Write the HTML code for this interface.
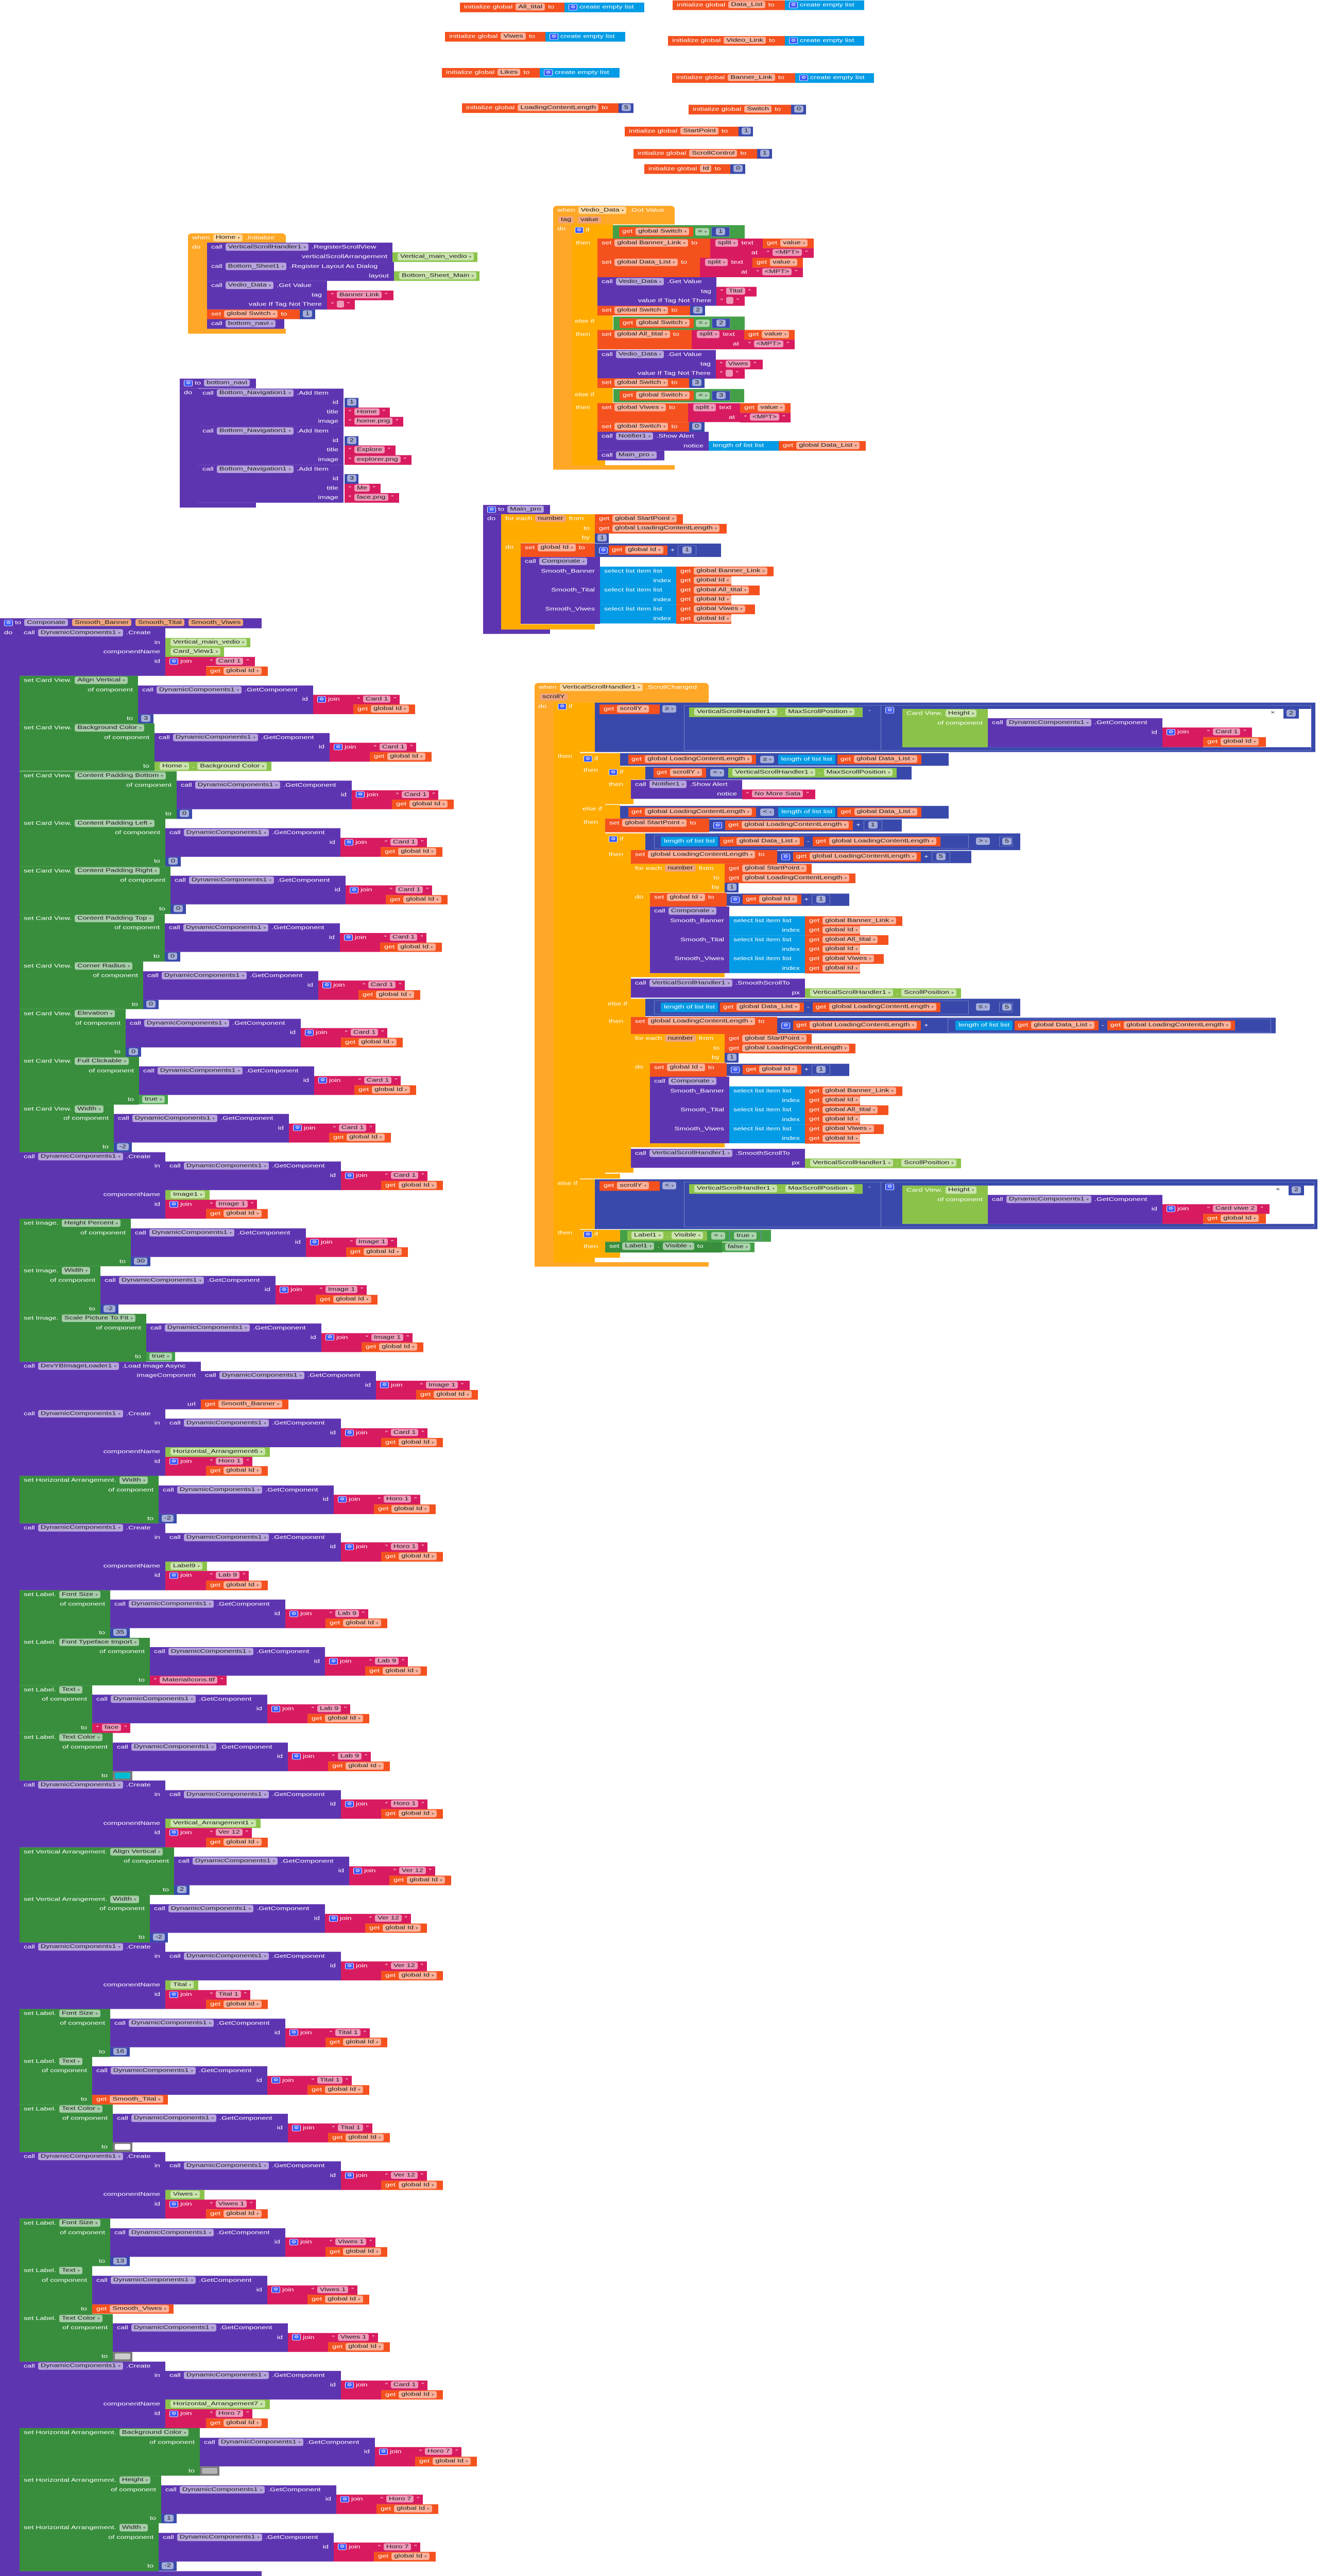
<!DOCTYPE html>
<html><head><meta charset="utf-8">
<style>
*{box-sizing:border-box;margin:0;padding:0}
html,body{width:100%;height:100%;background:#fff;overflow:hidden}
body{font-family:"Liberation Sans",Arial,sans-serif}
#s{display:block;width:100vw;height:100vh;background:#fff}
#w{position:relative;width:2563px;height:6933px;overflow:hidden;background:#fff;font-family:"Liberation Sans",Arial,sans-serif}
.b{position:absolute;height:25.6px;color:#fff;font-size:14.5px;line-height:25.6px;white-space:nowrap;padding:0 7px 0 8px}
.t{position:absolute;color:#fff;font-size:14.5px;line-height:25.6px;white-space:nowrap}
.st{position:absolute;left:38px;width:0;height:0}
.P{background:#5E35B1}.G{background:#388E3C}.O{background:#F4511E}.K{background:#D81B60}.N{background:#3949AB}.L{background:#039BE5}.C{background:#8BC34A}.E{background:#FFA726}.Y{background:#FFAB00}.LG{background:#43A047}.X{background:#7a7a7a}
.f{display:inline-block;background:rgba(255,255,255,.55);color:#1e1e1e;border-radius:4px;padding:0 5px;line-height:19px;margin:0 2px;vertical-align:1px}
.f i{font-style:normal;font-size:9px;opacity:.6;margin-left:4px}
.pa{background:#EFA57C}
.r{position:absolute;right:10px}
.r1{top:25.6px}.r2{top:51.3px}.r3{top:76.9px}.r4{top:102.5px}.r5{top:128.2px}.r6{top:153.8px}
.gr{display:inline-block;width:17px;height:17px;line-height:15px;text-align:center;background:#3D5AFE;border:1px solid #fff;border-radius:3px;font-size:11px;font-weight:normal;vertical-align:middle;color:#fff}
.ch{display:inline-block;height:25.6px;line-height:25.6px;padding:0 6px;vertical-align:middle;margin:0 2px}
.bd{border:1px solid #7986CB}
.sw{display:inline-block;width:30px;height:16px;vertical-align:middle;border-radius:3px}
.sg{left:0;top:0;width:var(--w);height:128.2px}
.gc{left:var(--w);top:25.6px;width:340px;height:76.9px}
.jn{left:calc(var(--w) + 340px);top:51.3px;width:78px;height:51.3px}
.tx{left:calc(var(--w) + 418px);top:51.3px}
.gt{left:calc(var(--w) + 418px);top:76.9px;width:120px}
.tv{left:var(--w);top:102.5px}
.c7{left:0;top:0;width:283px;height:179.4px}
.cgc{left:283px;top:25.6px;width:341px;height:76.9px}
.cjn{left:624px;top:51.3px;width:78px;height:51.3px}
.ctx{left:702px;top:51.3px}
.cgt{left:702px;top:76.9px;width:120px}
.cnm{left:283px;top:102.5px}
.cj2{left:283px;top:128.2px;width:79px;height:51.3px}
.ct2{left:362px;top:128.2px}
.cg2{left:362px;top:153.8px;width:120px}
</style></head><body>
<svg id="s" viewBox="0 0 2563 6933" preserveAspectRatio="none"><foreignObject x="0" y="0" width="2563" height="6933"><div id="w">

<!-- ===== Global variables ===== -->
<div class="b O" style="left:893px;top:7px;width:203px">initialize global <span class="f">All_tital</span> to</div><div class="b L" style="left:1096px;top:7px;width:155px"><b class="gr">⚙</b> create empty list</div>
<div class="b O" style="left:1306px;top:1px;width:218px">initialize global <span class="f">Data_List</span> to</div><div class="b L" style="left:1524px;top:1px;width:154px"><b class="gr">⚙</b> create empty list</div>
<div class="b O" style="left:864px;top:86px;width:195px">initialize global <span class="f">Viwes</span> to</div><div class="b L" style="left:1059px;top:86px;width:155px"><b class="gr">⚙</b> create empty list</div>
<div class="b O" style="left:1297px;top:97px;width:227px">initialize global <span class="f">Video_Link</span> to</div><div class="b L" style="left:1524px;top:97px;width:154px"><b class="gr">⚙</b> create empty list</div>
<div class="b O" style="left:858px;top:183px;width:190px">initialize global <span class="f">Likes</span> to</div><div class="b L" style="left:1048px;top:183px;width:155px"><b class="gr">⚙</b> create empty list</div>
<div class="b O" style="left:1305px;top:197px;width:239px">initialize global <span class="f">Banner_Link</span> to</div><div class="b L" style="left:1544px;top:197px;width:153px"><b class="gr">⚙</b> create empty list</div>
<div class="b O" style="left:897px;top:278px;width:304px">initialize global <span class="f">LoadingContentLength</span> to</div><div class="b N" style="left:1201px;top:278px;width:29px;padding:0 4px"><span class="f">5</span></div>
<div class="b O" style="left:1337px;top:282px;width:199px">initialize global <span class="f">Switch</span> to</div><div class="b N" style="left:1536px;top:282px;width:29px;padding:0 4px"><span class="f">0</span></div>
<div class="b O" style="left:1213px;top:341px;width:221px">initialize global <span class="f">StartPoint</span> to</div><div class="b N" style="left:1434px;top:341px;width:28px;padding:0 4px"><span class="f">1</span></div>
<div class="b O" style="left:1230px;top:401px;width:240px">initialize global <span class="f">ScrollControl</span> to</div><div class="b N" style="left:1470px;top:401px;width:29px;padding:0 4px"><span class="f">1</span></div>
<div class="b O" style="left:1251px;top:442px;width:167px">initialize global <span class="f">Id</span> to</div><div class="b N" style="left:1418px;top:442px;width:29px;padding:0 4px"><span class="f">0</span></div>

<!-- ===== when Home.Initialize ===== -->
<div class="b E" style="left:365px;top:628px;width:190px;border-radius:8px 8px 0 0">when <span class="f">Home<i>▾</i></span> .Initialize</div>
<div class="b E" style="left:365px;top:653px;width:37px;height:245px">do</div>
<div class="b E" style="left:365px;top:885px;width:190px;height:13px"></div>
<div class="b P" style="left:402px;top:653px;width:360px;height:52px">call <span class="f">VerticalScrollHandler1<i>▾</i></span> .RegisterScrollView<span class="r r1">verticalScrollArrangement</span></div>
<div class="b C" style="left:762px;top:679px;width:165px"><span class="f">Vertical_main_vedio<i>▾</i></span></div>
<div class="b P" style="left:402px;top:705px;width:363px;height:51px">call <span class="f">Bottom_Sheet1<i>▾</i></span> .Register Layout As Dialog<span class="r r1">layout</span></div>
<div class="b C" style="left:765px;top:730px;width:166px"><span class="f">Bottom_Sheet_Main<i>▾</i></span></div>
<div class="b P" style="left:402px;top:756px;width:233px;height:77px">call <span class="f">Vedio_Data<i>▾</i></span> .Get Value<span class="r r1">tag</span><span class="r r2">value If Tag Not There</span></div>
<div class="b K" style="left:635px;top:782px;width:129px">“ <span class="f">Banner Link</span> ”</div>
<div class="b K" style="left:635px;top:807px;width:54px">“ <span class="f">&nbsp;</span> ”</div>
<div class="b O" style="left:402px;top:833px;width:180px">set <span class="f">global Switch<i>▾</i></span> to</div>
<div class="b N" style="left:582px;top:833px;width:30px;padding:0 4px"><span class="f">1</span></div>
<div class="b P" style="left:402px;top:859px;width:150px">call <span class="f">bottom_navi<i>▾</i></span></div>

<!-- ===== to bottom_navi ===== -->
<div class="b P" style="left:349px;top:1019px;width:148px;height:26px"><b class="gr">⚙</b> to <span class="f">bottom_navi</span></div>
<div class="b P" style="left:349px;top:1045px;width:36px;height:321px">do</div>
<div class="b P" style="left:349px;top:1353px;width:148px;height:13px"></div>
<div class="b P" style="left:385px;top:1045.5px;width:282px;height:102.5px">call <span class="f">Bottom_Navigation1<i>▾</i></span> .Add Item<span class="r r1">id</span><span class="r r2">title</span><span class="r r3">image</span></div>
<div class="b N" style="left:669px;top:1071px;width:27px;padding:0 3px"><span class="f">1</span></div>
<div class="b K" style="left:669px;top:1097px;width:88px">“ <span class="f">Home</span> ”</div>
<div class="b K" style="left:669px;top:1122px;width:114px">“ <span class="f">home.png</span> ”</div>
<div class="b P" style="left:385px;top:1148px;width:282px;height:102.5px">call <span class="f">Bottom_Navigation1<i>▾</i></span> .Add Item<span class="r r1">id</span><span class="r r2">title</span><span class="r r3">image</span></div>
<div class="b N" style="left:669px;top:1174px;width:27px;padding:0 3px"><span class="f">2</span></div>
<div class="b K" style="left:669px;top:1199px;width:99px">“ <span class="f">Explore</span> ”</div>
<div class="b K" style="left:669px;top:1225px;width:130px">“ <span class="f">explorer.png</span> ”</div>
<div class="b P" style="left:385px;top:1250.5px;width:282px;height:102.5px">call <span class="f">Bottom_Navigation1<i>▾</i></span> .Add Item<span class="r r1">id</span><span class="r r2">title</span><span class="r r3">image</span></div>
<div class="b N" style="left:669px;top:1276px;width:27px;padding:0 3px"><span class="f">3</span></div>
<div class="b K" style="left:669px;top:1302px;width:70px">“ <span class="f">Me</span> ”</div>
<div class="b K" style="left:669px;top:1327px;width:106px">“ <span class="f">face.png</span> ”</div>

<!-- ===== when Vedio_Data.Got Value ===== -->
<div class="b E" style="left:1074px;top:554px;width:236px;height:50px;border-radius:8px 8px 0 0">when <span class="f">Vedio_Data<i>▾</i></span> .Got Value<br><span class="f pa">tag</span> <span class="f pa">value</span></div>
<div class="b E" style="left:1074px;top:604px;width:37px;height:660px">do</div>
<div class="b E" style="left:1074px;top:1252px;width:236px;height:12px"></div>
<div class="b Y" style="left:1111px;top:604px;width:49px;height:648px"></div>
<div class="b Y" style="left:1111px;top:604px;width:79px;height:38px"></div>
<div class="b Y" style="left:1111px;top:848px;width:79px;height:40px"></div>
<div class="b Y" style="left:1111px;top:1043px;width:79px;height:42px"></div>
<div class="b Y" style="left:1111px;top:1239px;width:64px;height:13px"></div>
<div class="t" style="left:1116px;top:607px"><b class="gr">⚙</b> if</div>
<div class="t" style="left:1118px;top:642px">then</div>
<div class="t" style="left:1116px;top:853px">else if</div>
<div class="t" style="left:1118px;top:888px">then</div>
<div class="t" style="left:1116px;top:1050px">else if</div>
<div class="t" style="left:1118px;top:1085px">then</div>
<div class="b LG" style="left:1190px;top:606px;width:256px;height:36px;line-height:36px;padding-left:10px"><span class="ch O">get <span class="f">global Switch<i>▾</i></span></span><span class="f">=<i>▾</i></span><span class="ch N bd"><span class="f">1</span></span></div>
<div class="b O" style="left:1160px;top:642px;width:219px;height:52px">set <span class="f">global Banner_Link<i>▾</i></span> to</div>
<div class="b K" style="left:1379px;top:642px;width:102px;height:52px"><span class="f">split<i>▾</i></span> text<span class="r r1">at</span></div>
<div class="b O" style="left:1481px;top:642px;width:99px">get <span class="f">value<i>▾</i></span></div>
<div class="b K" style="left:1481px;top:668px;width:99px">“ <span class="f">&lt;MPT&gt;</span> ”</div>
<div class="b O" style="left:1160px;top:694px;width:199px;height:52px">set <span class="f">global Data_List<i>▾</i></span> to</div>
<div class="b K" style="left:1359px;top:694px;width:102px;height:52px"><span class="f">split<i>▾</i></span> text<span class="r r1">at</span></div>
<div class="b O" style="left:1461px;top:694px;width:98px">get <span class="f">value<i>▾</i></span></div>
<div class="b K" style="left:1461px;top:720px;width:98px">“ <span class="f">&lt;MPT&gt;</span> ”</div>
<div class="b P" style="left:1160px;top:746px;width:231px;height:77px">call <span class="f">Vedio_Data<i>▾</i></span> .Get Value<span class="r r1">tag</span><span class="r r2">value If Tag Not There</span></div>
<div class="b K" style="left:1391px;top:772px;width:78px">“ <span class="f">Tital</span> ”</div>
<div class="b K" style="left:1391px;top:797px;width:55px">“ <span class="f">&nbsp;</span> ”</div>
<div class="b O" style="left:1160px;top:823px;width:180px">set <span class="f">global Switch<i>▾</i></span> to</div>
<div class="b N" style="left:1340px;top:823px;width:29px;padding:0 4px"><span class="f">2</span></div>
<div class="b LG" style="left:1191px;top:852px;width:255px;height:36px;line-height:36px;padding-left:10px"><span class="ch O">get <span class="f">global Switch<i>▾</i></span></span><span class="f">=<i>▾</i></span><span class="ch N bd"><span class="f">2</span></span></div>
<div class="b O" style="left:1160px;top:888px;width:183px;height:52px">set <span class="f">global All_tital<i>▾</i></span> to</div>
<div class="b K" style="left:1343px;top:888px;width:102px;height:52px"><span class="f">split<i>▾</i></span> text<span class="r r1">at</span></div>
<div class="b O" style="left:1445px;top:888px;width:98px">get <span class="f">value<i>▾</i></span></div>
<div class="b K" style="left:1445px;top:914px;width:98px">“ <span class="f">&lt;MPT&gt;</span> ”</div>
<div class="b P" style="left:1160px;top:942px;width:230px;height:77px">call <span class="f">Vedio_Data<i>▾</i></span> .Get Value<span class="r r1">tag</span><span class="r r2">value If Tag Not There</span></div>
<div class="b K" style="left:1390px;top:968px;width:91px">“ <span class="f">Viwes</span> ”</div>
<div class="b K" style="left:1390px;top:993px;width:56px">“ <span class="f">&nbsp;</span> ”</div>
<div class="b O" style="left:1160px;top:1018px;width:178px">set <span class="f">global Switch<i>▾</i></span> to</div>
<div class="b N" style="left:1338px;top:1018px;width:30px;padding:0 4px"><span class="f">3</span></div>
<div class="b LG" style="left:1191px;top:1047px;width:254px;height:36px;line-height:36px;padding-left:10px"><span class="ch O">get <span class="f">global Switch<i>▾</i></span></span><span class="f">=<i>▾</i></span><span class="ch N bd"><span class="f">3</span></span></div>
<div class="b O" style="left:1160px;top:1085px;width:176px;height:51px">set <span class="f">global Viwes<i>▾</i></span> to</div>
<div class="b K" style="left:1336px;top:1085px;width:101px;height:51px"><span class="f">split<i>▾</i></span> text<span class="r r1">at</span></div>
<div class="b O" style="left:1437px;top:1085px;width:98px">get <span class="f">value<i>▾</i></span></div>
<div class="b K" style="left:1437px;top:1111px;width:98px">“ <span class="f">&lt;MPT&gt;</span> ”</div>
<div class="b O" style="left:1160px;top:1136px;width:178px">set <span class="f">global Switch<i>▾</i></span> to</div>
<div class="b N" style="left:1338px;top:1136px;width:30px;padding:0 4px"><span class="f">0</span></div>
<div class="b P" style="left:1160px;top:1162px;width:216px;height:51px">call <span class="f">Notifier1<i>▾</i></span> .Show Alert<span class="r r1">notice</span></div>
<div class="b L" style="left:1376px;top:1187px;width:136px">length of list  list</div>
<div class="b O" style="left:1512px;top:1187px;width:169px">get <span class="f">global Data_List<i>▾</i></span></div>
<div class="b P" style="left:1160px;top:1213px;width:130px">call <span class="f">Main_pro<i>▾</i></span></div>

<!-- ===== to Main_pro ===== -->
<div class="b P" style="left:938px;top:1359px;width:130px;height:25px"><b class="gr">⚙</b> to <span class="f">Main_pro</span></div>
<div class="b P" style="left:938px;top:1384px;width:35px;height:322px">do</div>
<div class="b P" style="left:938px;top:1694px;width:130px;height:12px"></div>
<div class="b Y" style="left:973px;top:1384px;width:182px;height:77px">for each <span class="f pa">number</span> from<span class="r r1">to</span><span class="r r2">by</span></div>
<div class="b Y" style="left:973px;top:1461px;width:38px;height:233px">do</div>
<div class="b Y" style="left:973px;top:1680px;width:182px;height:14px"></div>
<div class="b O" style="left:1155px;top:1384px;width:171px">get <span class="f">global StartPoint<i>▾</i></span></div>
<div class="b O" style="left:1155px;top:1410px;width:256px">get <span class="f">global LoadingContentLength<i>▾</i></span></div>
<div class="b N" style="left:1155px;top:1436px;width:27px;padding:0 3px"><span class="f">1</span></div>
<div class="b O" style="left:1011px;top:1462px;width:144px;height:37px">set <span class="f">global Id<i>▾</i></span> to</div>
<div class="b N" style="left:1155px;top:1463px;width:245px;height:36px;line-height:36px"><b class="gr">⚙</b><span class="ch O">get <span class="f">global Id<i>▾</i></span></span> + <span class="ch N bd"><span class="f">1</span></span></div>
<div class="b P" style="left:1011px;top:1499px;width:154px;height:180px">call <span class="f">Componate<i>▾</i></span><span class="r r1">Smooth_Banner</span><span class="r r3">Smooth_Tital</span><span class="r r5">Smooth_Viwes</span></div>
<div class="b L" style="left:1165px;top:1525px;width:148px;height:51px">select list item  list<span class="r r1">index</span></div>
<div class="b L" style="left:1165px;top:1576px;width:148px;height:51px">select list item  list<span class="r r1">index</span></div>
<div class="b L" style="left:1165px;top:1627px;width:148px;height:51px">select list item  list<span class="r r1">index</span></div>
<div class="b O" style="left:1313px;top:1525px;width:189px">get <span class="f">global Banner_Link<i>▾</i></span></div>
<div class="b O" style="left:1313px;top:1550px;width:107px">get <span class="f">global Id<i>▾</i></span></div>
<div class="b O" style="left:1313px;top:1576px;width:162px">get <span class="f">global All_tital<i>▾</i></span></div>
<div class="b O" style="left:1313px;top:1601px;width:107px">get <span class="f">global Id<i>▾</i></span></div>
<div class="b O" style="left:1313px;top:1627px;width:153px">get <span class="f">global Viwes<i>▾</i></span></div>
<div class="b O" style="left:1313px;top:1653px;width:107px">get <span class="f">global Id<i>▾</i></span></div>

<!-- ===== when VerticalScrollHandler1.ScrollChanged ===== -->
<div class="b E" style="left:1038px;top:1838px;width:338px;height:53px;border-radius:8px 8px 0 0">when <span class="f">VerticalScrollHandler1<i>▾</i></span> .ScrollChanged<br><span class="f pa">scrollY</span></div>
<div class="b E" style="left:1038px;top:1891px;width:37px;height:1518px"></div>
<div class="t" style="left:1045px;top:1889px">do</div>
<div class="b E" style="left:1038px;top:3397px;width:338px;height:12px"></div>
<div class="b Y" style="left:1075px;top:1891px;width:51px;height:1507px"></div>
<div class="b Y" style="left:1075px;top:1891px;width:80px;height:133px"></div>
<div class="b Y" style="left:1075px;top:3174px;width:80px;height:134px"></div>
<div class="b Y" style="left:1075px;top:3385px;width:80px;height:13px"></div>
<div class="t" style="left:1083px;top:1889px"><b class="gr">⚙</b> if</div>
<div class="t" style="left:1083px;top:2024px">then</div>
<div class="t" style="left:1083px;top:3173px">else if</div>
<div class="t" style="left:1083px;top:3306px">then</div>

<!-- big condition 1 -->
<div class="b N" style="left:1155px;top:1891px;width:1399px;height:133px"></div>
<div class="b O" style="left:1164px;top:1896px;width:117px">get <span class="f">scrollY<i>▾</i></span></div>
<div class="t" style="left:1284px;top:1896px"><span class="f">≥<i>▾</i></span></div>
<div class="b N bd" style="left:1328px;top:1898px;width:1218px;height:122px"></div>
<div class="b C" style="left:1338px;top:1904px;width:337px"><span class="f">VerticalScrollHandler1<i>▾</i></span> . <span class="f">MaxScrollPosition<i>▾</i></span></div>
<div class="t" style="left:1686px;top:1900px">-</div>
<div class="b N bd" style="left:1710px;top:1898px;width:836px;height:122px"><b class="gr">⚙</b></div>
<div style="position:absolute;left:1752px;top:1908px;width:794px;height:103px;background:#fff"></div>
<div class="b C" style="left:1752px;top:1908px;width:166px;height:103px">Card View. <span class="f">Height<i>▾</i></span><span class="r r1">of component</span></div>
<div class="b P" style="left:1918px;top:1933px;width:339px;height:78px">call <span class="f">DynamicComponents1<i>▾</i></span> .GetComponent<span class="r r1">id</span></div>
<div class="b K" style="left:2257px;top:1958px;width:79px;height:53px"><b class="gr">⚙</b> join</div>
<div class="b K" style="left:2336px;top:1958px;width:95px">“ <span class="f">Card 1</span> ”</div>
<div class="b O" style="left:2336px;top:1984px;width:122px">get <span class="f">global Id<i>▾</i></span></div>
<div class="t" style="left:2467px;top:1906px;color:#333">×</div>
<div class="b N" style="left:2492px;top:1908px;width:30px;padding:0 4px"><span class="f">2</span></div>

<!-- nested if A -->
<div class="b Y" style="left:1126px;top:2027px;width:49px;height:1145px"></div>
<div class="b Y" style="left:1126px;top:2027px;width:78px;height:36px"></div>
<div class="b Y" style="left:1126px;top:2166px;width:78px;height:37px"></div>
<div class="b Y" style="left:1126px;top:3159px;width:78px;height:13px"></div>
<div class="t" style="left:1133px;top:2030px"><b class="gr">⚙</b> if</div>
<div class="t" style="left:1133px;top:2061px">then</div>
<div class="t" style="left:1131px;top:2165px">else if</div>
<div class="t" style="left:1133px;top:2201px">then</div>
<div class="b N" style="left:1204px;top:2027px;width:638px;height:34px;line-height:34px;padding-left:14px"><span class="ch O">get <span class="f">global LoadingContentLength<i>▾</i></span></span> <span class="f">≥<i>▾</i></span> <span class="ch L">length of list  list</span><span class="ch O">get <span class="f">global Data_List<i>▾</i></span></span></div>
<!-- nested if B -->
<div class="b Y" style="left:1175px;top:2063px;width:50px;height:101px"></div>
<div class="b Y" style="left:1175px;top:2063px;width:78px;height:35px"></div>
<div class="b Y" style="left:1175px;top:2150px;width:55px;height:14px"></div>
<div class="t" style="left:1182px;top:2066px"><b class="gr">⚙</b> if</div>
<div class="t" style="left:1182px;top:2099px">then</div>
<div class="b N" style="left:1253px;top:2063px;width:517px;height:35px;line-height:35px;padding-left:14px"><span class="ch O">get <span class="f">scrollY<i>▾</i></span></span> <span class="f">=<i>▾</i></span> <span class="ch C"><span class="f">VerticalScrollHandler1<i>▾</i></span> . <span class="f">MaxScrollPosition<i>▾</i></span></span></div>
<div class="b P" style="left:1225px;top:2099px;width:216px;height:51px">call <span class="f">Notifier1<i>▾</i></span> .Show Alert<span class="r r1">notice</span></div>
<div class="b K" style="left:1441px;top:2125px;width:142px">“ <span class="f">No More Sata</span> ”</div>
<div class="b N" style="left:1204px;top:2169px;width:638px;height:34px;line-height:34px;padding-left:14px"><span class="ch O">get <span class="f">global LoadingContentLength<i>▾</i></span></span> <span class="f">&lt;<i>▾</i></span> <span class="ch L">length of list  list</span><span class="ch O">get <span class="f">global Data_List<i>▾</i></span></span></div>
<div class="b O" style="left:1175px;top:2203px;width:202px;height:37px">set <span class="f">global StartPoint<i>▾</i></span> to</div>
<div class="b N" style="left:1377px;top:2205px;width:374px;height:33px;line-height:33px"><b class="gr">⚙</b> <span class="ch O">get <span class="f">global LoadingContentLength<i>▾</i></span></span> + <span class="ch N bd"><span class="f">1</span></span></div>
<!-- nested if C -->
<div class="b Y" style="left:1175px;top:2243px;width:50px;height:913px"></div>
<div class="b Y" style="left:1175px;top:2243px;width:78px;height:45px"></div>
<div class="b Y" style="left:1175px;top:2688px;width:78px;height:49px"></div>
<div class="b Y" style="left:1175px;top:3143px;width:55px;height:13px"></div>
<div class="t" style="left:1182px;top:2246px"><b class="gr">⚙</b> if</div>
<div class="t" style="left:1182px;top:2288px">then</div>
<div class="t" style="left:1180px;top:2690px">else if</div>
<div class="t" style="left:1182px;top:2737px">then</div>
<div class="b N" style="left:1253px;top:2243px;width:728px;height:45px"></div>
<div class="b N bd" style="left:1270px;top:2247px;width:611px;height:37px;line-height:35px;padding-left:10px"><span class="ch L">length of list  list</span><span class="ch O">get <span class="f">global Data_List<i>▾</i></span></span> - <span class="ch O">get <span class="f">global LoadingContentLength<i>▾</i></span></span></div>
<div class="t" style="left:1893px;top:2252px"><span class="f">&gt;<i>▾</i></span></div>
<div class="b N bd" style="left:1940px;top:2252px;width:26px;padding:0 3px"><span class="f">5</span></div>
<div class="b O" style="left:1225px;top:2288px;width:284px;height:37px">set <span class="f">global LoadingContentLength<i>▾</i></span> to</div>
<div class="b N" style="left:1509px;top:2290px;width:377px;height:33px;line-height:33px"><b class="gr">⚙</b> <span class="ch O">get <span class="f">global LoadingContentLength<i>▾</i></span></span> + <span class="ch N bd"><span class="f">5</span></span></div>
<!-- for each 1 -->
<div class="b Y" style="left:1225px;top:2325px;width:182px;height:77px">for each <span class="f pa">number</span> from<span class="r r1">to</span><span class="r r2">by</span></div>
<div class="b Y" style="left:1225px;top:2402px;width:37px;height:221px">do</div>
<div class="b Y" style="left:1225px;top:2619px;width:182px;height:11px"></div>
<div class="b O" style="left:1407px;top:2325px;width:169px">get <span class="f">global StartPoint<i>▾</i></span></div>
<div class="b O" style="left:1407px;top:2351px;width:254px">get <span class="f">global LoadingContentLength<i>▾</i></span></div>
<div class="b N" style="left:1407px;top:2376px;width:27px;padding:0 3px"><span class="f">1</span></div>
<div class="b O" style="left:1262px;top:2403px;width:149px;height:37px">set <span class="f">global Id<i>▾</i></span> to</div>
<div class="b N" style="left:1411px;top:2405px;width:238px;height:33px;line-height:33px"><b class="gr">⚙</b> <span class="ch O">get <span class="f">global Id<i>▾</i></span></span> + <span class="ch N bd"><span class="f">1</span></span></div>
<div class="b P" style="left:1262px;top:2440px;width:154px;height:179px">call <span class="f">Componate<i>▾</i></span><span class="r r1">Smooth_Banner</span><span class="r r3">Smooth_Tital</span><span class="r r5">Smooth_Viwes</span></div>
<div class="b L" style="left:1416px;top:2466px;width:147px;height:51px">select list item  list<span class="r r1">index</span></div>
<div class="b L" style="left:1416px;top:2517px;width:147px;height:51px">select list item  list<span class="r r1">index</span></div>
<div class="b L" style="left:1416px;top:2568px;width:147px;height:51px">select list item  list<span class="r r1">index</span></div>
<div class="b O" style="left:1563px;top:2466px;width:189px">get <span class="f">global Banner_Link<i>▾</i></span></div>
<div class="b O" style="left:1563px;top:2491px;width:107px">get <span class="f">global Id<i>▾</i></span></div>
<div class="b O" style="left:1563px;top:2517px;width:162px">get <span class="f">global All_tital<i>▾</i></span></div>
<div class="b O" style="left:1563px;top:2542px;width:107px">get <span class="f">global Id<i>▾</i></span></div>
<div class="b O" style="left:1563px;top:2568px;width:153px">get <span class="f">global Viwes<i>▾</i></span></div>
<div class="b O" style="left:1563px;top:2594px;width:107px">get <span class="f">global Id<i>▾</i></span></div>
<div class="b P" style="left:1225px;top:2634px;width:338px;height:51px">call <span class="f">VerticalScrollHandler1<i>▾</i></span> .SmoothScrollTo<span class="r r1">px</span></div>
<div class="b C" style="left:1563px;top:2660px;width:303px"><span class="f">VerticalScrollHandler1<i>▾</i></span> . <span class="f">ScrollPosition<i>▾</i></span></div>
<!-- else if C2 -->
<div class="b N" style="left:1253px;top:2688px;width:728px;height:47px"></div>
<div class="b N bd" style="left:1270px;top:2693px;width:611px;height:37px;line-height:35px;padding-left:10px"><span class="ch L">length of list  list</span><span class="ch O">get <span class="f">global Data_List<i>▾</i></span></span> - <span class="ch O">get <span class="f">global LoadingContentLength<i>▾</i></span></span></div>
<div class="t" style="left:1893px;top:2698px"><span class="f">≤<i>▾</i></span></div>
<div class="b N bd" style="left:1940px;top:2698px;width:26px;padding:0 3px"><span class="f">5</span></div>
<div class="b O" style="left:1225px;top:2737px;width:284px;height:46px">set <span class="f">global LoadingContentLength<i>▾</i></span> to</div>
<div class="b N" style="left:1509px;top:2739px;width:968px;height:42px;line-height:42px"><b class="gr">⚙</b> <span class="ch O">get <span class="f">global LoadingContentLength<i>▾</i></span></span> + </div>
<div class="b N bd" style="left:1840px;top:2742px;width:628px;height:37px;line-height:35px;padding-left:12px"><span class="ch L">length of list  list</span><span class="ch O">get <span class="f">global Data_List<i>▾</i></span></span> - <span class="ch O">get <span class="f">global LoadingContentLength<i>▾</i></span></span></div>
<!-- for each 2 -->
<div class="b Y" style="left:1225px;top:2783px;width:182px;height:77px">for each <span class="f pa">number</span> from<span class="r r1">to</span><span class="r r2">by</span></div>
<div class="b Y" style="left:1225px;top:2860px;width:37px;height:221px">do</div>
<div class="b Y" style="left:1225px;top:3077px;width:182px;height:11px"></div>
<div class="b O" style="left:1407px;top:2783px;width:169px">get <span class="f">global StartPoint<i>▾</i></span></div>
<div class="b O" style="left:1407px;top:2809px;width:254px">get <span class="f">global LoadingContentLength<i>▾</i></span></div>
<div class="b N" style="left:1407px;top:2834px;width:27px;padding:0 3px"><span class="f">1</span></div>
<div class="b O" style="left:1262px;top:2861px;width:149px;height:37px">set <span class="f">global Id<i>▾</i></span> to</div>
<div class="b N" style="left:1411px;top:2863px;width:238px;height:33px;line-height:33px"><b class="gr">⚙</b> <span class="ch O">get <span class="f">global Id<i>▾</i></span></span> + <span class="ch N bd"><span class="f">1</span></span></div>
<div class="b P" style="left:1262px;top:2898px;width:154px;height:179px">call <span class="f">Componate<i>▾</i></span><span class="r r1">Smooth_Banner</span><span class="r r3">Smooth_Tital</span><span class="r r5">Smooth_Viwes</span></div>
<div class="b L" style="left:1416px;top:2924px;width:147px;height:51px">select list item  list<span class="r r1">index</span></div>
<div class="b L" style="left:1416px;top:2975px;width:147px;height:51px">select list item  list<span class="r r1">index</span></div>
<div class="b L" style="left:1416px;top:3026px;width:147px;height:51px">select list item  list<span class="r r1">index</span></div>
<div class="b O" style="left:1563px;top:2924px;width:189px">get <span class="f">global Banner_Link<i>▾</i></span></div>
<div class="b O" style="left:1563px;top:2949px;width:107px">get <span class="f">global Id<i>▾</i></span></div>
<div class="b O" style="left:1563px;top:2975px;width:162px">get <span class="f">global All_tital<i>▾</i></span></div>
<div class="b O" style="left:1563px;top:3000px;width:107px">get <span class="f">global Id<i>▾</i></span></div>
<div class="b O" style="left:1563px;top:3026px;width:153px">get <span class="f">global Viwes<i>▾</i></span></div>
<div class="b O" style="left:1563px;top:3052px;width:107px">get <span class="f">global Id<i>▾</i></span></div>
<div class="b P" style="left:1225px;top:3092px;width:338px;height:51px">call <span class="f">VerticalScrollHandler1<i>▾</i></span> .SmoothScrollTo<span class="r r1">px</span></div>
<div class="b C" style="left:1563px;top:3118px;width:303px"><span class="f">VerticalScrollHandler1<i>▾</i></span> . <span class="f">ScrollPosition<i>▾</i></span></div>

<!-- big condition 2 -->
<div class="b N" style="left:1155px;top:3174px;width:1403px;height:134px"></div>
<div class="b O" style="left:1164px;top:3179px;width:117px">get <span class="f">scrollY<i>▾</i></span></div>
<div class="t" style="left:1284px;top:3179px"><span class="f">&lt;<i>▾</i></span></div>
<div class="b N bd" style="left:1328px;top:3181px;width:1224px;height:122px"></div>
<div class="b C" style="left:1338px;top:3187px;width:337px"><span class="f">VerticalScrollHandler1<i>▾</i></span> . <span class="f">MaxScrollPosition<i>▾</i></span></div>
<div class="t" style="left:1686px;top:3183px">-</div>
<div class="b N bd" style="left:1710px;top:3181px;width:842px;height:122px"><b class="gr">⚙</b></div>
<div style="position:absolute;left:1752px;top:3191px;width:800px;height:103px;background:#fff"></div>
<div class="b C" style="left:1752px;top:3191px;width:166px;height:103px">Card View. <span class="f">Height<i>▾</i></span><span class="r r1">of component</span></div>
<div class="b P" style="left:1918px;top:3216px;width:339px;height:78px">call <span class="f">DynamicComponents1<i>▾</i></span> .GetComponent<span class="r r1">id</span></div>
<div class="b K" style="left:2257px;top:3241px;width:79px;height:53px"><b class="gr">⚙</b> join</div>
<div class="b K" style="left:2336px;top:3241px;width:129px">“ <span class="f">Card viwe 2</span> ”</div>
<div class="b O" style="left:2336px;top:3267px;width:122px">get <span class="f">global Id<i>▾</i></span></div>
<div class="t" style="left:2477px;top:3189px;color:#333">×</div>
<div class="b N" style="left:2502px;top:3191px;width:30px;padding:0 4px"><span class="f">2</span></div>

<!-- nested if D -->
<div class="b Y" style="left:1126px;top:3310px;width:49px;height:75px"></div>
<div class="b Y" style="left:1126px;top:3310px;width:78px;height:32px"></div>
<div class="b Y" style="left:1126px;top:3371px;width:78px;height:14px"></div>
<div class="t" style="left:1133px;top:3310px"><b class="gr">⚙</b> if</div>
<div class="t" style="left:1133px;top:3343px">then</div>
<div class="b LG" style="left:1204px;top:3310px;width:293px;height:32px;line-height:32px;padding-left:12px"><span class="ch C"><span class="f">Label1<i>▾</i></span> . <span class="f">Visible<i>▾</i></span></span> <span class="f">=<i>▾</i></span> <span class="ch LG bd"><span class="f">true<i>▾</i></span></span></div>
<div class="b G" style="left:1175px;top:3342px;width:227px;height:29px">set <span class="f">Label1<i>▾</i></span> . <span class="f">Visible<i>▾</i></span> to</div>
<div class="b LG" style="left:1402px;top:3344px;width:63px;padding:0 4px"><span class="f">false<i>▾</i></span></div>

<!-- ===== to Componate ===== -->
<div class="b P" style="left:0;top:1664px;width:508px;height:27px"><b class="gr">⚙</b> to <span class="f">Componate</span> <span class="f pa">Smooth_Banner</span> <span class="f pa">Smooth_Tital</span> <span class="f pa">Smooth_Viwes</span></div>
<div class="b P" style="left:0;top:1691px;width:38px;height:5242px">do</div>
<div class="b P" style="left:0;top:6920px;width:508px;height:13px"></div>

<!-- 1 Create -->
<div class="st" style="top:1691px"><div class="b P" style="left:0;top:0;width:283px;height:128.2px">call <span class="f">DynamicComponents1<i>▾</i></span> .Create<span class="r r1">in</span><span class="r r2">componentName</span><span class="r r3">id</span></div><div class="b C" style="left:283px;top:25.6px;width:165px"><span class="f">Vertical_main_vedio<i>▾</i></span></div><div class="b C" style="left:283px;top:51.3px;width:114px"><span class="f">Card_View1<i>▾</i></span></div><div class="b K" style="left:283px;top:76.9px;width:79px;height:51.3px"><b class="gr">⚙</b> join</div><div class="b K" style="left:362px;top:76.9px;width:95px">“ <span class="f">Card 1</span> ”</div><div class="b O" style="left:362px;top:102.5px;width:120px">get <span class="f">global Id<i>▾</i></span></div></div>

<!-- 2 -->
<div class="st" style="top:1819.2px;--w:230px"><div class="b G sg">set Card View. <span class="f">Align Vertical<i>▾</i></span><span class="r r1">of component</span><span class="r r4">to</span></div><div class="b P gc">call <span class="f">DynamicComponents1<i>▾</i></span> .GetComponent<span class="r r1">id</span></div><div class="b K jn"><b class="gr">⚙</b> join</div><div class="b K tx">“ <span class="f">Card 1</span> ”</div><div class="b O gt">get <span class="f">global Id<i>▾</i></span></div><div class="b N tv" style="padding:0 4px"><span class="f">3</span></div></div>
<!-- 3 -->
<div class="st" style="top:1947.3px;--w:262px"><div class="b G sg">set Card View. <span class="f">Background Color<i>▾</i></span><span class="r r1">of component</span><span class="r r4">to</span></div><div class="b P gc">call <span class="f">DynamicComponents1<i>▾</i></span> .GetComponent<span class="r r1">id</span></div><div class="b K jn"><b class="gr">⚙</b> join</div><div class="b K tx">“ <span class="f">Card 1</span> ”</div><div class="b O gt">get <span class="f">global Id<i>▾</i></span></div><div class="b C tv"><span class="f">Home<i>▾</i></span> . <span class="f">Background Color<i>▾</i></span></div></div>
<!-- 4 -->
<div class="st" style="top:2075.5px;--w:305px"><div class="b G sg">set Card View. <span class="f">Content Padding Bottom<i>▾</i></span><span class="r r1">of component</span><span class="r r4">to</span></div><div class="b P gc">call <span class="f">DynamicComponents1<i>▾</i></span> .GetComponent<span class="r r1">id</span></div><div class="b K jn"><b class="gr">⚙</b> join</div><div class="b K tx">“ <span class="f">Card 1</span> ”</div><div class="b O gt">get <span class="f">global Id<i>▾</i></span></div><div class="b N tv" style="padding:0 4px"><span class="f">0</span></div></div>
<!-- 5 -->
<div class="st" style="top:2203.6px;--w:283px"><div class="b G sg">set Card View. <span class="f">Content Padding Left<i>▾</i></span><span class="r r1">of component</span><span class="r r4">to</span></div><div class="b P gc">call <span class="f">DynamicComponents1<i>▾</i></span> .GetComponent<span class="r r1">id</span></div><div class="b K jn"><b class="gr">⚙</b> join</div><div class="b K tx">“ <span class="f">Card 1</span> ”</div><div class="b O gt">get <span class="f">global Id<i>▾</i></span></div><div class="b N tv" style="padding:0 4px"><span class="f">0</span></div></div>
<!-- 6 -->
<div class="st" style="top:2331.8px;--w:293px"><div class="b G sg">set Card View. <span class="f">Content Padding Right<i>▾</i></span><span class="r r1">of component</span><span class="r r4">to</span></div><div class="b P gc">call <span class="f">DynamicComponents1<i>▾</i></span> .GetComponent<span class="r r1">id</span></div><div class="b K jn"><b class="gr">⚙</b> join</div><div class="b K tx">“ <span class="f">Card 1</span> ”</div><div class="b O gt">get <span class="f">global Id<i>▾</i></span></div><div class="b N tv" style="padding:0 4px"><span class="f">0</span></div></div>
<!-- 7 -->
<div class="st" style="top:2459.9px;--w:282px"><div class="b G sg">set Card View. <span class="f">Content Padding Top<i>▾</i></span><span class="r r1">of component</span><span class="r r4">to</span></div><div class="b P gc">call <span class="f">DynamicComponents1<i>▾</i></span> .GetComponent<span class="r r1">id</span></div><div class="b K jn"><b class="gr">⚙</b> join</div><div class="b K tx">“ <span class="f">Card 1</span> ”</div><div class="b O gt">get <span class="f">global Id<i>▾</i></span></div><div class="b N tv" style="padding:0 4px"><span class="f">0</span></div></div>
<!-- 8 -->
<div class="st" style="top:2588.1px;--w:240px"><div class="b G sg">set Card View. <span class="f">Corner Radius<i>▾</i></span><span class="r r1">of component</span><span class="r r4">to</span></div><div class="b P gc">call <span class="f">DynamicComponents1<i>▾</i></span> .GetComponent<span class="r r1">id</span></div><div class="b K jn"><b class="gr">⚙</b> join</div><div class="b K tx">“ <span class="f">Card 1</span> ”</div><div class="b O gt">get <span class="f">global Id<i>▾</i></span></div><div class="b N tv" style="padding:0 4px"><span class="f">0</span></div></div>
<!-- 9 -->
<div class="st" style="top:2716.2px;--w:206px"><div class="b G sg">set Card View. <span class="f">Elevation<i>▾</i></span><span class="r r1">of component</span><span class="r r4">to</span></div><div class="b P gc">call <span class="f">DynamicComponents1<i>▾</i></span> .GetComponent<span class="r r1">id</span></div><div class="b K jn"><b class="gr">⚙</b> join</div><div class="b K tx">“ <span class="f">Card 1</span> ”</div><div class="b O gt">get <span class="f">global Id<i>▾</i></span></div><div class="b N tv" style="padding:0 4px"><span class="f">0</span></div></div>
<!-- 10 -->
<div class="st" style="top:2844.4px;--w:232px"><div class="b G sg">set Card View. <span class="f">Full Clickable<i>▾</i></span><span class="r r1">of component</span><span class="r r4">to</span></div><div class="b P gc">call <span class="f">DynamicComponents1<i>▾</i></span> .GetComponent<span class="r r1">id</span></div><div class="b K jn"><b class="gr">⚙</b> join</div><div class="b K tx">“ <span class="f">Card 1</span> ”</div><div class="b O gt">get <span class="f">global Id<i>▾</i></span></div><div class="b LG tv" style="padding:0 4px"><span class="f">true<i>▾</i></span></div></div>
<!-- 11 -->
<div class="st" style="top:2972.5px;--w:183px"><div class="b G sg">set Card View. <span class="f">Width<i>▾</i></span><span class="r r1">of component</span><span class="r r4">to</span></div><div class="b P gc">call <span class="f">DynamicComponents1<i>▾</i></span> .GetComponent<span class="r r1">id</span></div><div class="b K jn"><b class="gr">⚙</b> join</div><div class="b K tx">“ <span class="f">Card 1</span> ”</div><div class="b O gt">get <span class="f">global Id<i>▾</i></span></div><div class="b N tv" style="padding:0 4px"><span class="f">-2</span></div></div>
<!-- 12 Create7 -->
<div class="st" style="top:3100.7px"><div class="b P c7">call <span class="f">DynamicComponents1<i>▾</i></span> .Create<span class="r r1">in</span><span class="r r4">componentName</span><span class="r r5">id</span></div><div class="b P cgc">call <span class="f">DynamicComponents1<i>▾</i></span> .GetComponent<span class="r r1">id</span></div><div class="b K cjn"><b class="gr">⚙</b> join</div><div class="b K ctx">“ <span class="f">Card 1</span> ”</div><div class="b O cgt">get <span class="f">global Id<i>▾</i></span></div><div class="b C cnm"><span class="f">Image1<i>▾</i></span></div><div class="b K cj2"><b class="gr">⚙</b> join</div><div class="b K ct2">“ <span class="f">Image 1</span> ”</div><div class="b O cg2">get <span class="f">global Id<i>▾</i></span></div></div>
<!-- 13 -->
<div class="st" style="top:3280.1px;--w:216px"><div class="b G sg">set Image. <span class="f">Height Percent<i>▾</i></span><span class="r r1">of component</span><span class="r r4">to</span></div><div class="b P gc">call <span class="f">DynamicComponents1<i>▾</i></span> .GetComponent<span class="r r1">id</span></div><div class="b K jn"><b class="gr">⚙</b> join</div><div class="b K tx">“ <span class="f">Image 1</span> ”</div><div class="b O gt">get <span class="f">global Id<i>▾</i></span></div><div class="b N tv" style="padding:0 4px"><span class="f">30</span></div></div>
<!-- 14 -->
<div class="st" style="top:3408.2px;--w:157px"><div class="b G sg">set Image. <span class="f">Width<i>▾</i></span><span class="r r1">of component</span><span class="r r4">to</span></div><div class="b P gc">call <span class="f">DynamicComponents1<i>▾</i></span> .GetComponent<span class="r r1">id</span></div><div class="b K jn"><b class="gr">⚙</b> join</div><div class="b K tx">“ <span class="f">Image 1</span> ”</div><div class="b O gt">get <span class="f">global Id<i>▾</i></span></div><div class="b N tv" style="padding:0 4px"><span class="f">-2</span></div></div>
<!-- 15 -->
<div class="st" style="top:3536.4px;--w:246px"><div class="b G sg">set Image. <span class="f">Scale Picture To Fit<i>▾</i></span><span class="r r1">of component</span><span class="r r4">to</span></div><div class="b P gc">call <span class="f">DynamicComponents1<i>▾</i></span> .GetComponent<span class="r r1">id</span></div><div class="b K jn"><b class="gr">⚙</b> join</div><div class="b K tx">“ <span class="f">Image 1</span> ”</div><div class="b O gt">get <span class="f">global Id<i>▾</i></span></div><div class="b LG tv" style="padding:0 4px"><span class="f">true<i>▾</i></span></div></div>
<!-- 16 Loader -->
<div class="st" style="top:3664.5px"><div class="b P" style="left:0;top:0;width:352px;height:128.2px">call <span class="f">DevYBImageLoader1<i>▾</i></span> .Load Image Async<span class="r r1">imageComponent</span><span class="r r4">url</span></div><div class="b P" style="left:352px;top:25.6px;width:340px;height:76.9px">call <span class="f">DynamicComponents1<i>▾</i></span> .GetComponent<span class="r r1">id</span></div><div class="b K" style="left:692px;top:51.3px;width:78px;height:51.3px"><b class="gr">⚙</b> join</div><div class="b K" style="left:770px;top:51.3px;width:104px">“ <span class="f">Image 1</span> ”</div><div class="b O" style="left:770px;top:76.9px;width:120px">get <span class="f">global Id<i>▾</i></span></div><div class="b O" style="left:352px;top:102.5px;width:170px">get <span class="f">Smooth_Banner<i>▾</i></span></div></div>
<!-- 17 Create7 -->
<div class="st" style="top:3792.7px"><div class="b P c7">call <span class="f">DynamicComponents1<i>▾</i></span> .Create<span class="r r1">in</span><span class="r r4">componentName</span><span class="r r5">id</span></div><div class="b P cgc">call <span class="f">DynamicComponents1<i>▾</i></span> .GetComponent<span class="r r1">id</span></div><div class="b K cjn"><b class="gr">⚙</b> join</div><div class="b K ctx">“ <span class="f">Card 1</span> ”</div><div class="b O cgt">get <span class="f">global Id<i>▾</i></span></div><div class="b C cnm"><span class="f">Horizontal_Arrangement6<i>▾</i></span></div><div class="b K cj2"><b class="gr">⚙</b> join</div><div class="b K ct2">“ <span class="f">Horo 1</span> ”</div><div class="b O cg2">get <span class="f">global Id<i>▾</i></span></div></div>
<!-- 18 -->
<div class="st" style="top:3972.1px;--w:270px"><div class="b G sg">set Horizontal Arrangement. <span class="f">Width<i>▾</i></span><span class="r r1">of component</span><span class="r r4">to</span></div><div class="b P gc">call <span class="f">DynamicComponents1<i>▾</i></span> .GetComponent<span class="r r1">id</span></div><div class="b K jn"><b class="gr">⚙</b> join</div><div class="b K tx">“ <span class="f">Horo 1</span> ”</div><div class="b O gt">get <span class="f">global Id<i>▾</i></span></div><div class="b N tv" style="padding:0 4px"><span class="f">-2</span></div></div>
<!-- 19 Create7 -->
<div class="st" style="top:4100.2px"><div class="b P c7">call <span class="f">DynamicComponents1<i>▾</i></span> .Create<span class="r r1">in</span><span class="r r4">componentName</span><span class="r r5">id</span></div><div class="b P cgc">call <span class="f">DynamicComponents1<i>▾</i></span> .GetComponent<span class="r r1">id</span></div><div class="b K cjn"><b class="gr">⚙</b> join</div><div class="b K ctx">“ <span class="f">Horo 1</span> ”</div><div class="b O cgt">get <span class="f">global Id<i>▾</i></span></div><div class="b C cnm"><span class="f">Label9<i>▾</i></span></div><div class="b K cj2"><b class="gr">⚙</b> join</div><div class="b K ct2">“ <span class="f">Lab 9</span> ”</div><div class="b O cg2">get <span class="f">global Id<i>▾</i></span></div></div>
<!-- 20 -->
<div class="st" style="top:4279.6px;--w:176px"><div class="b G sg">set Label. <span class="f">Font Size<i>▾</i></span><span class="r r1">of component</span><span class="r r4">to</span></div><div class="b P gc">call <span class="f">DynamicComponents1<i>▾</i></span> .GetComponent<span class="r r1">id</span></div><div class="b K jn"><b class="gr">⚙</b> join</div><div class="b K tx">“ <span class="f">Lab 9</span> ”</div><div class="b O gt">get <span class="f">global Id<i>▾</i></span></div><div class="b N tv" style="padding:0 4px"><span class="f">35</span></div></div>
<!-- 21 -->
<div class="st" style="top:4407.8px;--w:253px"><div class="b G sg">set Label. <span class="f">Font Typeface Import<i>▾</i></span><span class="r r1">of component</span><span class="r r4">to</span></div><div class="b P gc">call <span class="f">DynamicComponents1<i>▾</i></span> .GetComponent<span class="r r1">id</span></div><div class="b K jn"><b class="gr">⚙</b> join</div><div class="b K tx">“ <span class="f">Lab 9</span> ”</div><div class="b O gt">get <span class="f">global Id<i>▾</i></span></div><div class="b K tv">“ <span class="f">MaterialIcons.ttf</span> ”</div></div>
<!-- 22 -->
<div class="st" style="top:4535.9px;--w:141px"><div class="b G sg">set Label. <span class="f">Text<i>▾</i></span><span class="r r1">of component</span><span class="r r4">to</span></div><div class="b P gc">call <span class="f">DynamicComponents1<i>▾</i></span> .GetComponent<span class="r r1">id</span></div><div class="b K jn"><b class="gr">⚙</b> join</div><div class="b K tx">“ <span class="f">Lab 9</span> ”</div><div class="b O gt">get <span class="f">global Id<i>▾</i></span></div><div class="b K tv">“ <span class="f">face</span> ”</div></div>
<!-- 23 -->
<div class="st" style="top:4664.1px;--w:181px"><div class="b G sg">set Label. <span class="f">Text Color<i>▾</i></span><span class="r r1">of component</span><span class="r r4">to</span></div><div class="b P gc">call <span class="f">DynamicComponents1<i>▾</i></span> .GetComponent<span class="r r1">id</span></div><div class="b K jn"><b class="gr">⚙</b> join</div><div class="b K tx">“ <span class="f">Lab 9</span> ”</div><div class="b O gt">get <span class="f">global Id<i>▾</i></span></div><div class="b X tv" style="padding:0 4px"><span class="sw" style="background:#00BCD4"></span></div></div>
<!-- 24 Create7 -->
<div class="st" style="top:4792.2px"><div class="b P c7">call <span class="f">DynamicComponents1<i>▾</i></span> .Create<span class="r r1">in</span><span class="r r4">componentName</span><span class="r r5">id</span></div><div class="b P cgc">call <span class="f">DynamicComponents1<i>▾</i></span> .GetComponent<span class="r r1">id</span></div><div class="b K cjn"><b class="gr">⚙</b> join</div><div class="b K ctx">“ <span class="f">Horo 1</span> ”</div><div class="b O cgt">get <span class="f">global Id<i>▾</i></span></div><div class="b C cnm"><span class="f">Vertical_Arrangement1<i>▾</i></span></div><div class="b K cj2"><b class="gr">⚙</b> join</div><div class="b K ct2">“ <span class="f">Ver 12</span> ”</div><div class="b O cg2">get <span class="f">global Id<i>▾</i></span></div></div>
<!-- 25 -->
<div class="st" style="top:4971.6px;--w:300px"><div class="b G sg">set Vertical Arrangement. <span class="f">Align Vertical<i>▾</i></span><span class="r r1">of component</span><span class="r r4">to</span></div><div class="b P gc">call <span class="f">DynamicComponents1<i>▾</i></span> .GetComponent<span class="r r1">id</span></div><div class="b K jn"><b class="gr">⚙</b> join</div><div class="b K tx">“ <span class="f">Ver 12</span> ”</div><div class="b O gt">get <span class="f">global Id<i>▾</i></span></div><div class="b N tv" style="padding:0 4px"><span class="f">2</span></div></div>
<!-- 26 -->
<div class="st" style="top:5099.8px;--w:253px"><div class="b G sg">set Vertical Arrangement. <span class="f">Width<i>▾</i></span><span class="r r1">of component</span><span class="r r4">to</span></div><div class="b P gc">call <span class="f">DynamicComponents1<i>▾</i></span> .GetComponent<span class="r r1">id</span></div><div class="b K jn"><b class="gr">⚙</b> join</div><div class="b K tx">“ <span class="f">Ver 12</span> ”</div><div class="b O gt">get <span class="f">global Id<i>▾</i></span></div><div class="b N tv" style="padding:0 4px"><span class="f">-2</span></div></div>
<!-- 27 Create7 -->
<div class="st" style="top:5227.9px"><div class="b P c7">call <span class="f">DynamicComponents1<i>▾</i></span> .Create<span class="r r1">in</span><span class="r r4">componentName</span><span class="r r5">id</span></div><div class="b P cgc">call <span class="f">DynamicComponents1<i>▾</i></span> .GetComponent<span class="r r1">id</span></div><div class="b K cjn"><b class="gr">⚙</b> join</div><div class="b K ctx">“ <span class="f">Ver 12</span> ”</div><div class="b O cgt">get <span class="f">global Id<i>▾</i></span></div><div class="b C cnm"><span class="f">Tital<i>▾</i></span></div><div class="b K cj2"><b class="gr">⚙</b> join</div><div class="b K ct2">“ <span class="f">Tital 1</span> ”</div><div class="b O cg2">get <span class="f">global Id<i>▾</i></span></div></div>
<!-- 28 -->
<div class="st" style="top:5407.4px;--w:176px"><div class="b G sg">set Label. <span class="f">Font Size<i>▾</i></span><span class="r r1">of component</span><span class="r r4">to</span></div><div class="b P gc">call <span class="f">DynamicComponents1<i>▾</i></span> .GetComponent<span class="r r1">id</span></div><div class="b K jn"><b class="gr">⚙</b> join</div><div class="b K tx">“ <span class="f">Tital 1</span> ”</div><div class="b O gt">get <span class="f">global Id<i>▾</i></span></div><div class="b N tv" style="padding:0 4px"><span class="f">16</span></div></div>
<!-- 29 -->
<div class="st" style="top:5535.5px;--w:141px"><div class="b G sg">set Label. <span class="f">Text<i>▾</i></span><span class="r r1">of component</span><span class="r r4">to</span></div><div class="b P gc">call <span class="f">DynamicComponents1<i>▾</i></span> .GetComponent<span class="r r1">id</span></div><div class="b K jn"><b class="gr">⚙</b> join</div><div class="b K tx">“ <span class="f">Tital 1</span> ”</div><div class="b O gt">get <span class="f">global Id<i>▾</i></span></div><div class="b O tv">get <span class="f">Smooth_Tital<i>▾</i></span></div></div>
<!-- 30 -->
<div class="st" style="top:5663.7px;--w:181px"><div class="b G sg">set Label. <span class="f">Text Color<i>▾</i></span><span class="r r1">of component</span><span class="r r4">to</span></div><div class="b P gc">call <span class="f">DynamicComponents1<i>▾</i></span> .GetComponent<span class="r r1">id</span></div><div class="b K jn"><b class="gr">⚙</b> join</div><div class="b K tx">“ <span class="f">Tital 1</span> ”</div><div class="b O gt">get <span class="f">global Id<i>▾</i></span></div><div class="b X tv" style="padding:0 4px"><span class="sw" style="background:#ffffff"></span></div></div>
<!-- 31 Create7 -->
<div class="st" style="top:5791.8px"><div class="b P c7">call <span class="f">DynamicComponents1<i>▾</i></span> .Create<span class="r r1">in</span><span class="r r4">componentName</span><span class="r r5">id</span></div><div class="b P cgc">call <span class="f">DynamicComponents1<i>▾</i></span> .GetComponent<span class="r r1">id</span></div><div class="b K cjn"><b class="gr">⚙</b> join</div><div class="b K ctx">“ <span class="f">Ver 12</span> ”</div><div class="b O cgt">get <span class="f">global Id<i>▾</i></span></div><div class="b C cnm"><span class="f">Viwes<i>▾</i></span></div><div class="b K cj2"><b class="gr">⚙</b> join</div><div class="b K ct2">“ <span class="f">Viwes 1</span> ”</div><div class="b O cg2">get <span class="f">global Id<i>▾</i></span></div></div>
<!-- 32 -->
<div class="st" style="top:5971.2px;--w:176px"><div class="b G sg">set Label. <span class="f">Font Size<i>▾</i></span><span class="r r1">of component</span><span class="r r4">to</span></div><div class="b P gc">call <span class="f">DynamicComponents1<i>▾</i></span> .GetComponent<span class="r r1">id</span></div><div class="b K jn"><b class="gr">⚙</b> join</div><div class="b K tx">“ <span class="f">Viwes 1</span> ”</div><div class="b O gt">get <span class="f">global Id<i>▾</i></span></div><div class="b N tv" style="padding:0 4px"><span class="f">13</span></div></div>
<!-- 33 -->
<div class="st" style="top:6099.4px;--w:141px"><div class="b G sg">set Label. <span class="f">Text<i>▾</i></span><span class="r r1">of component</span><span class="r r4">to</span></div><div class="b P gc">call <span class="f">DynamicComponents1<i>▾</i></span> .GetComponent<span class="r r1">id</span></div><div class="b K jn"><b class="gr">⚙</b> join</div><div class="b K tx">“ <span class="f">Viwes 1</span> ”</div><div class="b O gt">get <span class="f">global Id<i>▾</i></span></div><div class="b O tv">get <span class="f">Smooth_Viwes<i>▾</i></span></div></div>
<!-- 34 -->
<div class="st" style="top:6227.5px;--w:181px"><div class="b G sg">set Label. <span class="f">Text Color<i>▾</i></span><span class="r r1">of component</span><span class="r r4">to</span></div><div class="b P gc">call <span class="f">DynamicComponents1<i>▾</i></span> .GetComponent<span class="r r1">id</span></div><div class="b K jn"><b class="gr">⚙</b> join</div><div class="b K tx">“ <span class="f">Viwes 1</span> ”</div><div class="b O gt">get <span class="f">global Id<i>▾</i></span></div><div class="b X tv" style="padding:0 4px"><span class="sw" style="background:#cccccc"></span></div></div>
<!-- 35 Create7 -->
<div class="st" style="top:6355.7px"><div class="b P c7">call <span class="f">DynamicComponents1<i>▾</i></span> .Create<span class="r r1">in</span><span class="r r4">componentName</span><span class="r r5">id</span></div><div class="b P cgc">call <span class="f">DynamicComponents1<i>▾</i></span> .GetComponent<span class="r r1">id</span></div><div class="b K cjn"><b class="gr">⚙</b> join</div><div class="b K ctx">“ <span class="f">Card 1</span> ”</div><div class="b O cgt">get <span class="f">global Id<i>▾</i></span></div><div class="b C cnm"><span class="f">Horizontal_Arrangement7<i>▾</i></span></div><div class="b K cj2"><b class="gr">⚙</b> join</div><div class="b K ct2">“ <span class="f">Horo 7</span> ”</div><div class="b O cg2">get <span class="f">global Id<i>▾</i></span></div></div>
<!-- 36 -->
<div class="st" style="top:6535.1px;--w:350px"><div class="b G sg">set Horizontal Arrangement. <span class="f">Background Color<i>▾</i></span><span class="r r1">of component</span><span class="r r4">to</span></div><div class="b P gc">call <span class="f">DynamicComponents1<i>▾</i></span> .GetComponent<span class="r r1">id</span></div><div class="b K jn"><b class="gr">⚙</b> join</div><div class="b K tx">“ <span class="f">Horo 7</span> ”</div><div class="b O gt">get <span class="f">global Id<i>▾</i></span></div><div class="b X tv" style="padding:0 4px"><span class="sw" style="background:#b5b5b5"></span></div></div>
<!-- 37 -->
<div class="st" style="top:6663.2px;--w:275px"><div class="b G sg">set Horizontal Arrangement. <span class="f">Height<i>▾</i></span><span class="r r1">of component</span><span class="r r4">to</span></div><div class="b P gc">call <span class="f">DynamicComponents1<i>▾</i></span> .GetComponent<span class="r r1">id</span></div><div class="b K jn"><b class="gr">⚙</b> join</div><div class="b K tx">“ <span class="f">Horo 7</span> ”</div><div class="b O gt">get <span class="f">global Id<i>▾</i></span></div><div class="b N tv" style="padding:0 4px"><span class="f">1</span></div></div>
<!-- 38 -->
<div class="st" style="top:6791.4px;--w:270px"><div class="b G sg">set Horizontal Arrangement. <span class="f">Width<i>▾</i></span><span class="r r1">of component</span><span class="r r4">to</span></div><div class="b P gc">call <span class="f">DynamicComponents1<i>▾</i></span> .GetComponent<span class="r r1">id</span></div><div class="b K jn"><b class="gr">⚙</b> join</div><div class="b K tx">“ <span class="f">Horo 7</span> ”</div><div class="b O gt">get <span class="f">global Id<i>▾</i></span></div><div class="b N tv" style="padding:0 4px"><span class="f">-2</span></div></div>

</div></foreignObject></svg>
</body></html>
